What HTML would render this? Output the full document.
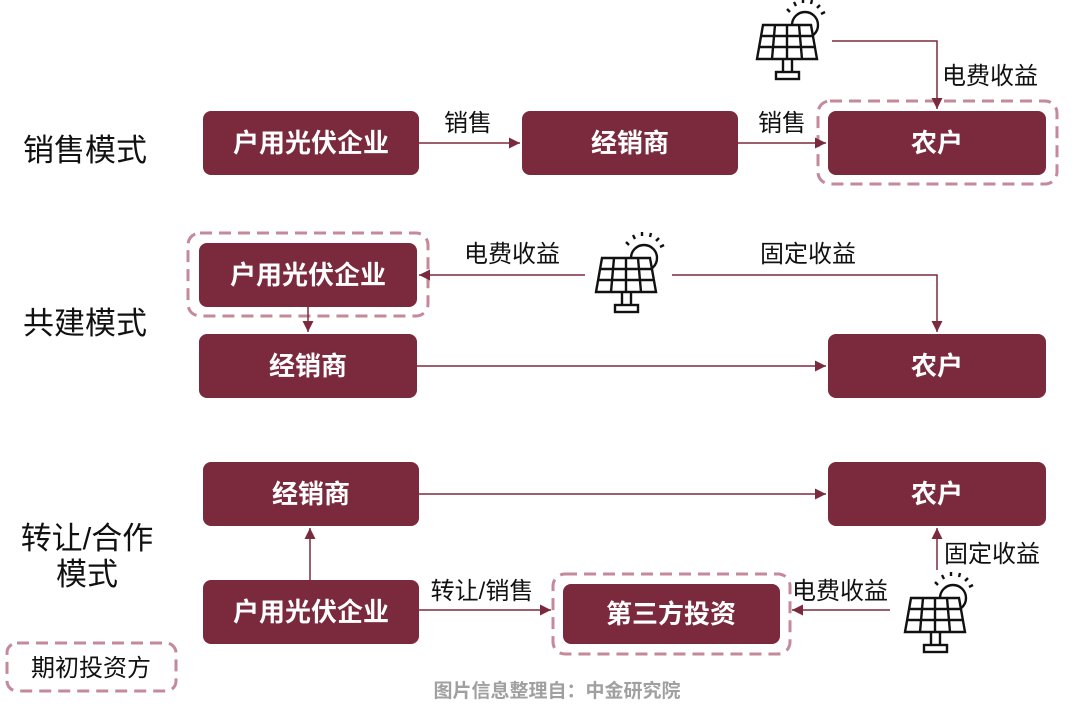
<!DOCTYPE html>
<html><head><meta charset="utf-8"><style>
html,body{margin:0;padding:0;background:#fff;}
svg{display:block;}
text{font-family:"Liberation Sans","Noto Sans CJK SC",sans-serif;}
</style></head><body>
<svg width="1080" height="716" viewBox="0 0 1080 716" xmlns="http://www.w3.org/2000/svg">
<defs>
<marker id="ar" viewBox="0 0 10 10" refX="10" refY="5" markerWidth="11" markerHeight="11" markerUnits="userSpaceOnUse" orient="auto">
<path d="M0,0 L10,5 L0,10 z" fill="#7b2a3e"/></marker>
<g id="sol" fill="none" stroke="#111" stroke-width="2.4">
<circle cx="66" cy="28" r="13" fill="#fff"/>
<path d="M48,12 l3,3 M55,5 l2,4 M64,2 l0,4 M73,3 l-1,4 M81,8 l-3,3 M86,15 l-4,2"/>
<path d="M24,28 L72,28 L78,62 L18,62 Z" fill="#fff"/>
<path d="M36,28 L33,62 M48,28 L48,62 M60,28 L63,62 M22,39 L74,39 M20,50 L76,50"/>
<path d="M44,62 L44,75 M53,62 L53,75"/>
<rect x="37" y="75" width="23" height="7" fill="#fff"/>
</g>
</defs>
<g fill="#7b2a3e">
<rect x="203" y="111" width="216" height="64" rx="8"/>
<rect x="522" y="111" width="216" height="64" rx="8"/>
<rect x="828" y="111" width="218" height="64" rx="8"/>
<rect x="199" y="243" width="218" height="64" rx="8"/>
<rect x="199" y="334" width="218" height="64" rx="8"/>
<rect x="828" y="334" width="218" height="64" rx="8"/>
<rect x="203" y="462" width="216" height="64" rx="8"/>
<rect x="828" y="462" width="218" height="64" rx="8"/>
<rect x="203" y="580" width="216" height="64" rx="8"/>
<rect x="563" y="584" width="217" height="60" rx="8"/>
</g>
<g fill="none" stroke="#c48a9a" stroke-width="3" stroke-dasharray="12,7">
<rect x="818" y="101" width="239" height="83" rx="12"/>
<rect x="188" y="233" width="240" height="83" rx="12"/>
<rect x="553" y="574" width="237" height="80" rx="12"/>
<rect x="7" y="643" width="169" height="48" rx="10"/>
</g>
<g fill="#fff" font-size="26" font-weight="bold" text-anchor="middle">
<text x="311" y="152">户用光伏企业</text>
<text x="630" y="152">经销商</text>
<text x="937" y="152">农户</text>
<text x="308" y="284">户用光伏企业</text>
<text x="308" y="375">经销商</text>
<text x="937" y="375">农户</text>
<text x="311" y="503">经销商</text>
<text x="937" y="503">农户</text>
<text x="311" y="621">户用光伏企业</text>
<text x="671" y="623">第三方投资</text>
</g>
<g fill="#111" font-size="31" text-anchor="middle">
<text x="85" y="161">销售模式</text>
<text x="85" y="334">共建模式</text>
<text x="87" y="549">转让/合作</text>
<text x="87" y="585">模式</text>
</g>
<g fill="#111" font-size="24" text-anchor="middle">
<text x="468" y="131">销售</text>
<text x="782" y="131">销售</text>
<text x="990" y="84">电费收益</text>
<text x="512" y="262">电费收益</text>
<text x="808" y="262">固定收益</text>
<text x="992" y="562">固定收益</text>
<text x="482" y="599">转让/销售</text>
<text x="840" y="599">电费收益</text>
<text x="91" y="676">期初投资方</text>
</g>
<text x="557" y="697" fill="#a0a0a0" font-size="19" font-weight="bold" text-anchor="middle">图片信息整理自：中金研究院</text>
<g fill="none" stroke="#7b2a3e" stroke-width="1.5">
<path d="M419,143 L520,143" marker-end="url(#ar)"/>
<path d="M738,143 L826,143" marker-end="url(#ar)"/>
<path d="M832,41 L937,41 L937,109" marker-end="url(#ar)"/>
<path d="M585,275 L419,275" marker-end="url(#ar)"/>
<path d="M672,275 L937,275 L937,332" marker-end="url(#ar)"/>
<path d="M308,307 L308,332" marker-end="url(#ar)"/>
<path d="M417,366 L826,366" marker-end="url(#ar)"/>
<path d="M419,494 L826,494" marker-end="url(#ar)"/>
<path d="M310,580 L310,528" marker-end="url(#ar)"/>
<path d="M419,610 L551,610" marker-end="url(#ar)"/>
<path d="M890,610 L792,610" marker-end="url(#ar)"/>
<path d="M937,570 L937,528" marker-end="url(#ar)"/>
</g>
<use href="#sol" x="739" y="-3"/>
<use href="#sol" x="578" y="230"/>
<use href="#sol" x="887" y="570"/>
</svg>
</body></html>
